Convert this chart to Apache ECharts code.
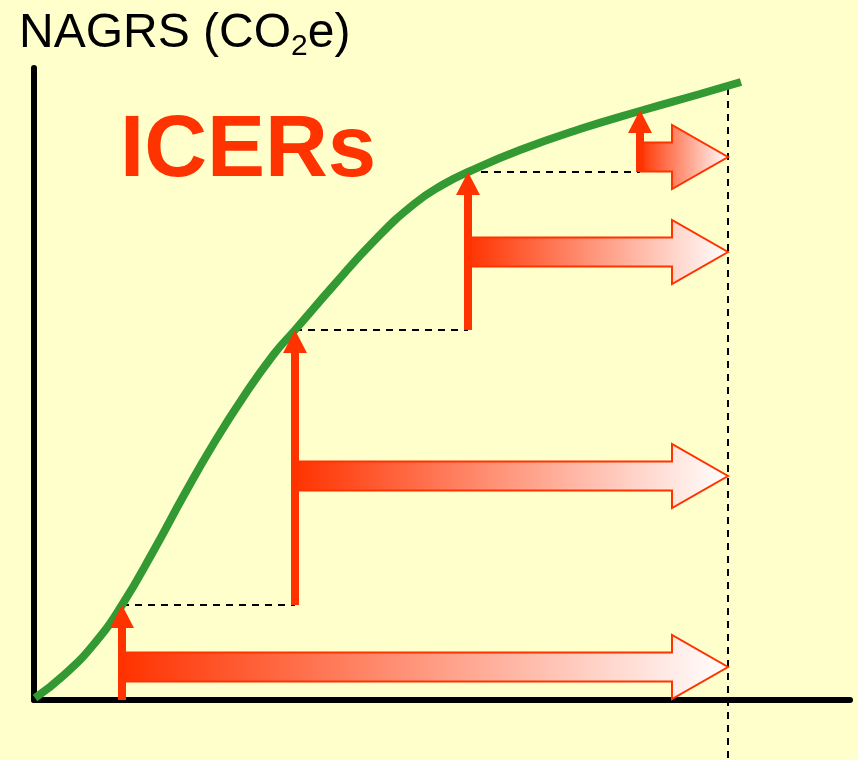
<!DOCTYPE html>
<html>
<head>
<meta charset="utf-8">
<script src="https://cdn.jsdelivr.net/npm/echarts@6/dist/echarts.min.js"></script>
<style>
  html, body { margin: 0; padding: 0; background: #ffffcc; }
  #chart { width: 858px; height: 760px; }
</style>
</head>
<body>
<div id="chart"></div>
<script>
// growth curve of net anthropogenic GHG removals (arbitrary units)
const curveX = [1, 30, 60, 88, 120, 150, 180, 210, 240, 261, 300, 340, 380, 410, 434, 486, 546, 606, 666, 707]
const curveY = [2, 25, 56, 95, 150, 205, 257, 304, 346, 370, 415, 459, 496, 516, 528, 550, 571, 589, 606, 618]

// verification steps: where each ICER is issued and how much is added
const stepX = [88, 261, 434, 606]
const stepY = [95, 370, 528, 590]
// level of each horizontal ICER arrow
const arrowY = [33, 224, 448, 543]
// end of the crediting period
const endX = 694
const endTopY = 612

const RED = '#ff3300'
const FONT = 'Liberation Sans, Arial, sans-serif'

const chart = echarts.init(document.getElementById('chart'))

const curveData = curveX.map((x, i) => [x, curveY[i]])
const stepData = stepX.map((x, i) => [x, i === 0 ? 0 : stepY[i - 1], stepY[i], arrowY[i]])
const dashData = stepX.slice(0, -1).map((x, i) => [x, stepX[i + 1], stepY[i]])

const option = {
  backgroundColor: '#ffffcc',
  animation: false,
  grid: { left: 34, right: 8, top: 68, bottom: 60 },
  xAxis: {
    type: 'value', min: 0, max: 816,
    axisLine: { show: true, lineStyle: { color: '#000', width: 6 } },
    axisTick: { show: false }, axisLabel: { show: false }, splitLine: { show: false },
  },
  yAxis: {
    type: 'value', min: 0, max: 632,
    axisLine: { show: true, lineStyle: { color: '#000', width: 6 } },
    axisTick: { show: false }, axisLabel: { show: false }, splitLine: { show: false },
  },
  graphic: [
    {
      type: 'text', left: 19, top: 10,
      style: {
        text: '{a|NAGRS (CO}{b|2}{a|e)}',
        rich: {
          a: { fontSize: 48, fontFamily: FONT, fill: '#000' },
          b: { fontSize: 30, fontFamily: FONT, fill: '#000', verticalAlign: 'bottom', padding: [0, 0, -4, 0] },
        },
      },
    },
    {
      type: 'text', left: 120, top: 109,
      style: { text: 'ICERs', fill: RED, font: 'bold 87px ' + FONT },
    },
  ],
  series: [
    {
      // dashed guides between steps and at the end of the period
      type: 'custom',
      data: dashData,
      silent: true,
      z: 2,
      clip: false,
      renderItem: (params, api) => {
        const a = api.coord([api.value(0), api.value(2)])
        const b = api.coord([api.value(1), api.value(2)])
        const dash = { stroke: '#000', lineWidth: 2, lineDash: [7, 6] }
        const children = [{
          type: 'line',
          shape: { x1: a[0], y1: a[1], x2: b[0], y2: b[1] },
          style: dash,
        }]
        if (params.dataIndex === 0) {
          const t = api.coord([endX, endTopY])
          children.push({
            type: 'line',
            shape: { x1: t[0], y1: t[1], x2: t[0], y2: api.getHeight() },
            style: dash,
          })
        }
        return { type: 'group', children }
      },
    },
    {
      type: 'line',
      data: curveData,
      smooth: 0.5,
      symbol: 'none',
      z: 3,
      lineStyle: { color: '#339933', width: 8 },
    },
    {
      // ICER arrows: horizontal gradient arrow up to the end, vertical red arrow for the increment
      type: 'custom',
      data: stepData,
      silent: true,
      z: 4,
      clip: false,
      renderItem: (params, api) => {
        const x = api.value(0)
        const p0 = api.coord([x, api.value(1)])
        const p1 = api.coord([x, api.value(2)])
        const h = api.coord([x, api.value(3)])
        const e = api.coord([endX, api.value(3)])
        const sh = 14.5, hh = 32, hl = 56
        const cy = h[1]
        const horiz = {
          type: 'polygon',
          shape: {
            points: [
              [h[0], cy - sh], [e[0] - hl, cy - sh], [e[0] - hl, cy - hh], [e[0], cy],
              [e[0] - hl, cy + hh], [e[0] - hl, cy + sh], [h[0], cy + sh],
            ],
          },
          style: {
            fill: new echarts.graphic.LinearGradient(0, 0, 1, 0, [
              { offset: 0, color: RED },
              { offset: 1, color: '#ffffff' },
            ]),
            stroke: RED, lineWidth: 2,
          },
        }
        const sw = 4, hw = 12, hv = 23
        const vert = {
          type: 'polygon',
          shape: {
            points: [
              [p0[0] - sw, p0[1]], [p0[0] - sw, p1[1] + hv], [p0[0] - hw, p1[1] + hv], [p0[0], p1[1]],
              [p0[0] + hw, p1[1] + hv], [p0[0] + sw, p1[1] + hv], [p0[0] + sw, p0[1]],
            ],
          },
          style: { fill: RED },
        }
        return { type: 'group', children: [horiz, vert] }
      },
    },
  ],
}

chart.setOption(option)
</script>
</body>
</html>
